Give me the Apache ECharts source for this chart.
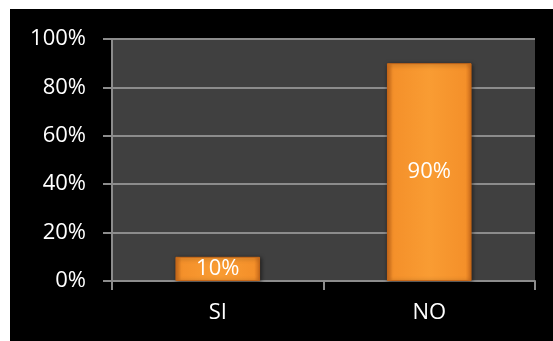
<!DOCTYPE html>
<html>
<head>
<meta charset="utf-8">
<script src="https://cdn.jsdelivr.net/npm/echarts@6/dist/echarts.min.js"></script>
<style>
  html, body { margin: 0; padding: 0; background: #ffffff; }
  #chart { position: absolute; left: 10px; top: 9px; width: 543px; height: 332px; background: #000000; }
</style>
</head>
<body>
<div id="chart"></div>
<script>
// Share of answers per option
const categories = ['SI', 'NO'];
const shares = [10, 90];
const yTicks = [0, 20, 40, 60, 80, 100];

const chart = echarts.init(document.getElementById('chart'), null, { renderer: 'canvas' });

const barFill = new echarts.graphic.LinearGradient(0, 0, 1, 0, [
  { offset: 0, color: '#d4701c' },
  { offset: 0.07, color: '#f4902a' },
  { offset: 0.5, color: '#f99c33' },
  { offset: 0.93, color: '#f4902a' },
  { offset: 1, color: '#d4701c' }
]);

chart.setOption({
  backgroundColor: '#000000',
  animation: false,
  grid: {
    left: 102, top: 30, right: 18, bottom: 60,
    show: true, backgroundColor: '#404040', borderWidth: 0
  },
  xAxis: {
    type: 'category',
    data: categories,
    axisLine: { show: true, lineStyle: { color: '#8c8c8c', width: 2 } },
    axisTick: { show: true, length: 9, alignWithLabel: false, lineStyle: { color: '#8c8c8c', width: 2 } },
    axisLabel: { color: '#ffffff', fontSize: 22, fontFamily: 'Open Sans', margin: 21 }
  },
  yAxis: {
    type: 'value',
    min: yTicks[0], max: yTicks[yTicks.length - 1], interval: 20,
    axisLine: { show: true, lineStyle: { color: '#8c8c8c', width: 2 } },
    axisTick: { show: true, length: 9, lineStyle: { color: '#8c8c8c', width: 2 } },
    splitLine: { show: true, lineStyle: { color: '#8c8c8c', width: 2 } },
    axisLabel: { color: '#ffffff', fontSize: 22, fontFamily: 'Open Sans', margin: 26,
      formatter: v => v + '%' }
  },
  series: [{
    type: 'bar',
    data: shares,
    barWidth: '40%',
    itemStyle: {
      color: barFill,
      borderColor: '#c86818', borderWidth: 1,
      shadowColor: 'rgba(0,0,0,0.5)', shadowBlur: 4, shadowOffsetX: 1, shadowOffsetY: 1
    },
    label: {
      show: true, position: 'inside', color: '#ffffff',
      fontSize: 22, fontFamily: 'Open Sans',
      formatter: p => p.value + '%'
    }
  }]
});
</script>
</body>
</html>
